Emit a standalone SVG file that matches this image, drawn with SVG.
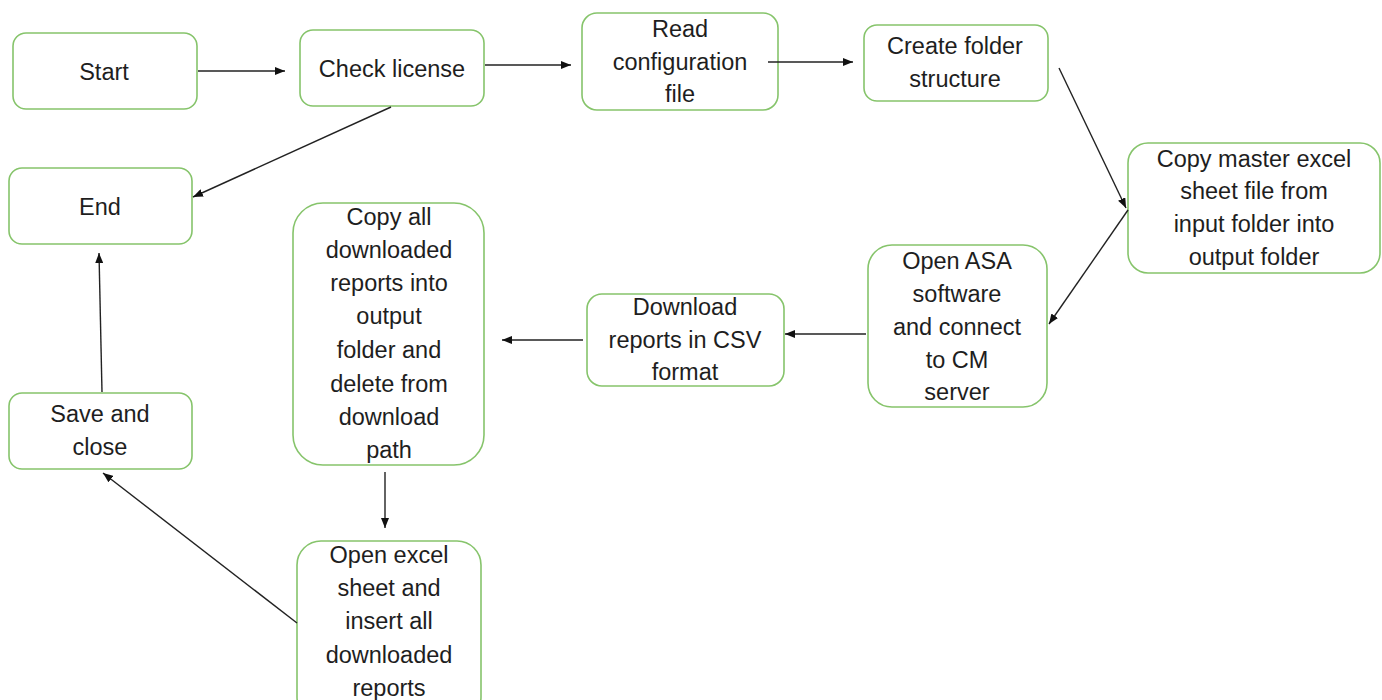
<svg xmlns="http://www.w3.org/2000/svg" width="1382" height="700" viewBox="0 0 1382 700">
<defs>
<style>
.box{fill:#fff;stroke:#86c46b;stroke-width:1.6}
.t{font-family:"Liberation Sans",Arial,sans-serif;font-size:23.5px;fill:#1e1e1e;text-anchor:middle}
.c{stroke:#222;stroke-width:1.4;fill:none;marker-end:url(#ah)}
</style>
<marker id="ah" markerUnits="userSpaceOnUse" markerWidth="10" markerHeight="8" refX="10" refY="4" orient="auto">
<path d="M0,0 L10,4 L0,8 Z" fill="#111"/>
</marker>
</defs>
<rect width="1382" height="700" fill="#fff"/>
<g id="start"><rect class="box" x="13" y="33" width="184" height="76" rx="13"/><text class="t" x="104" y="80">Start</text></g>
<g id="check"><rect class="box" x="300" y="30" width="184" height="76" rx="13"/><text class="t" x="392" y="77">Check license</text></g>
<g id="read"><rect class="box" x="582" y="13" width="196" height="97" rx="15"/><text class="t" x="680" y="37">Read</text><text class="t" x="680" y="70">configuration</text><text class="t" x="680" y="102">file</text></g>
<g id="create"><rect class="box" x="864" y="25" width="184" height="76" rx="13"/><text class="t" x="955" y="54">Create folder</text><text class="t" x="955" y="87">structure</text></g>
<g id="copymaster"><rect class="box" x="1128" y="143" width="252" height="130" rx="20"/><text class="t" x="1254" y="167">Copy master excel</text><text class="t" x="1254" y="199">sheet file from</text><text class="t" x="1254" y="232">input folder into</text><text class="t" x="1254" y="265">output folder</text></g>
<g id="openasa"><rect class="box" x="868" y="245" width="179" height="162" rx="24"/><text class="t" x="957" y="269">Open ASA</text><text class="t" x="957" y="302">software</text><text class="t" x="957" y="335">and connect</text><text class="t" x="957" y="368">to CM</text><text class="t" x="957" y="400">server</text></g>
<g id="download"><rect class="box" x="587" y="294" width="197" height="92" rx="15"/><text class="t" x="685" y="315">Download</text><text class="t" x="685" y="348">reports in CSV</text><text class="t" x="685" y="380">format</text></g>
<g id="copyall"><rect class="box" x="293" y="203" width="191" height="262" rx="30"/><text class="t" x="389" y="225">Copy all</text><text class="t" x="389" y="258">downloaded</text><text class="t" x="389" y="291">reports into</text><text class="t" x="389" y="324">output</text><text class="t" x="389" y="358">folder and</text><text class="t" x="389" y="392">delete from</text><text class="t" x="389" y="425">download</text><text class="t" x="389" y="458">path</text></g>
<g id="openexcel"><rect class="box" x="297" y="541" width="184" height="180" rx="24"/><text class="t" x="389" y="563">Open excel</text><text class="t" x="389" y="596">sheet and</text><text class="t" x="389" y="629">insert all</text><text class="t" x="389" y="663">downloaded</text><text class="t" x="389" y="696">reports</text></g>
<g id="end"><rect class="box" x="9" y="168" width="183" height="76" rx="13"/><text class="t" x="100" y="215">End</text></g>
<g id="save"><rect class="box" x="9" y="393" width="183" height="76" rx="13"/><text class="t" x="100" y="422">Save and</text><text class="t" x="100" y="455">close</text></g>
<g id="connectors">
<line class="c" x1="198" y1="71" x2="285" y2="71"/>
<line class="c" x1="485" y1="65" x2="571" y2="65"/>
<line class="c" x1="768" y1="62" x2="853" y2="62"/>
<line class="c" x1="1059" y1="68" x2="1126" y2="208"/>
<line class="c" x1="1128" y1="210" x2="1049" y2="324"/>
<line class="c" x1="866" y1="334" x2="785" y2="334"/>
<line class="c" x1="583" y1="340" x2="502" y2="340"/>
<line class="c" x1="385" y1="472" x2="385" y2="528"/>
<line class="c" x1="297" y1="623" x2="103" y2="473"/>
<line class="c" x1="102" y1="392" x2="99" y2="253"/>
<line class="c" x1="391" y1="107" x2="193" y2="197"/>
</g>
</svg>
